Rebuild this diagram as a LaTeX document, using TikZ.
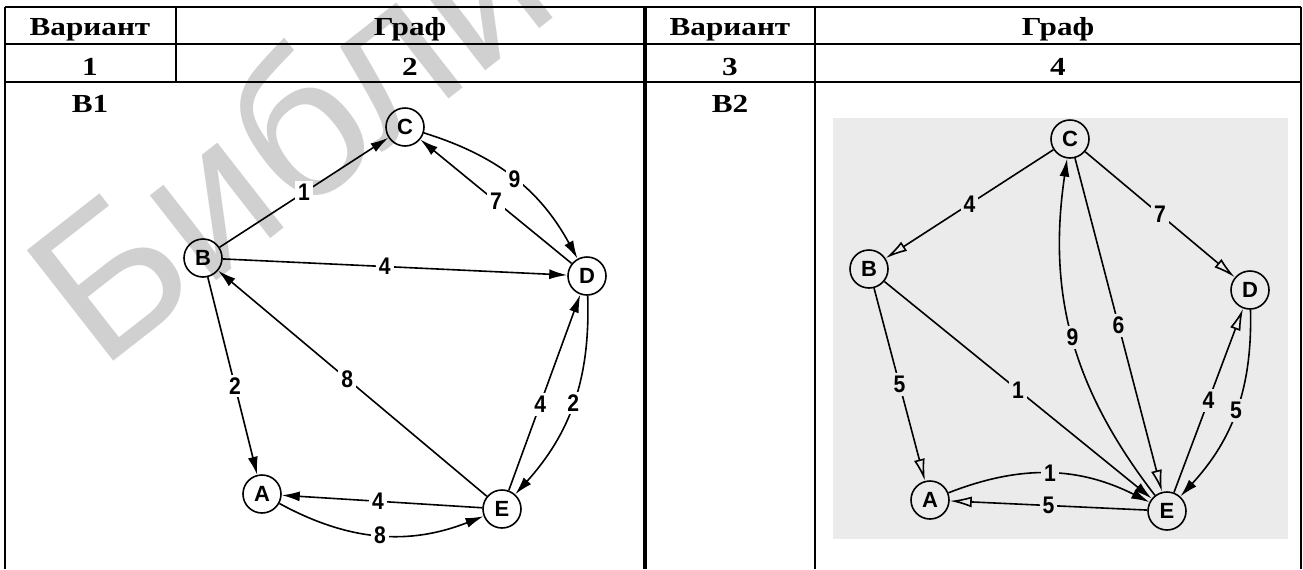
\documentclass[tikz,border=0pt]{standalone}
\usepackage{fontspec}
\setmainfont{Liberation Serif}
\setsansfont{Liberation Sans}
\newfontfamily\hdrfont{Liberation Serif}[FakeStretch=1.2]
\newfontfamily\lblfont{Liberation Sans}[FakeStretch=0.88]
\usetikzlibrary{arrows.meta}

\definecolor{boxgray}{HTML}{EBEBEB}
\definecolor{markgray}{HTML}{D0D0D0}

\tikzset{
  hdr/.style={anchor=base, font=\hdrfont\bfseries\fontsize{13}{13}\selectfont},
  vtx/.style={circle, draw, line width=0.8pt, minimum size=19pt, inner sep=0pt,
    font=\sffamily\bfseries\fontsize{11}{11}\selectfont},
  lbl/.style={fill=white, inner sep=1.5pt, font=\lblfont\bfseries\fontsize{12}{12}\selectfont},
  glbl/.style={lbl, fill=boxgray},
  arr/.style={line width=0.8pt, -{Latex[length=9pt,width=5pt]}},
  oarr/.style={line width=0.8pt, -{Latex[open,length=11pt,width=5.5pt]}},
  rule/.style={line width=1.2pt}
}

\begin{document}
\begin{tikzpicture}[x=0.5pt, y=-0.5pt]
\useasboundingbox (0,0) rectangle (1303,569);
\clip (0,0) rectangle (1303,569);

% watermark
\node[anchor=base west, rotate=38, text=markgray, inner sep=0pt,
  font=\sffamily\fontsize{102}{102}\selectfont] (mark) at (100,372) {Библиотека};

% table
\draw[rule] (5,7) -- (1301,7);
\draw[rule] (5,44) -- (1301,44);
\draw[rule] (5,82) -- (1301,82);
\draw[rule] (5,7) -- (5,569);
\draw[rule] (176,7) -- (176,82);
\draw[line width=1.7pt] (645,7) -- (645,569);
\draw[rule] (815,7) -- (815,569);
\draw[rule] (1301,7) -- (1301,569);

\node[hdr] (h1) at (90,35) {Вариант};
\node[hdr] (h2) at (410,35) {Граф};
\node[hdr] (h3) at (730,35) {Вариант};
\node[hdr] (h4) at (1058,35) {Граф};
\node[hdr] (n1) at (90,75) {1};
\node[hdr] (n2) at (410,75) {2};
\node[hdr] (n3) at (730,75) {3};
\node[hdr] (n4) at (1058,75) {4};
\node[hdr] (v1) at (90,112) {B1};
\node[hdr] (v2) at (730,112) {B2};

% graph B1
\node[vtx] (c1) at (405,127) {C};
\node[vtx] (b1) at (203,258) {B};
\node[vtx] (d1) at (587,276) {D};
\node[vtx] (a1) at (262,494) {A};
\node[vtx] (e1) at (502,509) {E};

\draw[arr] (b1) -- node[lbl] {1} (c1);
\draw[arr] (c1) to[bend left=22] node[lbl] {9} (d1);
\draw[arr] (d1) -- node[lbl] {7} (c1);
\draw[arr] (b1) -- node[lbl, pos=0.47] {4} (d1);
\draw[arr] (b1) -- node[lbl, pos=0.55] {2} (a1);
\draw[arr] (e1) -- node[lbl, pos=0.52] {8} (b1);
\draw[arr] (e1) -- node[lbl, pos=0.44] {4} (d1);
\draw[arr] (d1) to[bend left=22] node[lbl] {2} (e1);
\draw[arr] (e1) -- node[lbl, pos=0.52] {4} (a1);
\draw[arr] (a1) to[bend right=25] node[lbl] {8} (e1);

% graph B2
\fill[boxgray] (833,118) rectangle (1288,539);
\node[vtx] (c2) at (1070,139) {C};
\node[vtx] (b2) at (869,269) {B};
\node[vtx] (d2) at (1250,290) {D};
\node[vtx] (a2) at (930,500) {A};
\node[vtx] (e2) at (1167,511) {E};

\draw[oarr] (c2) -- node[glbl] {4} (b2);
\draw[oarr] (c2) -- node[glbl] {7} (d2);
\draw[oarr] (b2) -- node[glbl] {5} (a2);
\draw[arr] (b2) -- node[glbl] {1} (e2);
\draw[arr] (e2) to[bend left=23] node[glbl] {9} (c2);
\draw[oarr] (c2) -- node[glbl] {6} (e2);
\draw[oarr] (e2) -- node[glbl] {4} (d2);
\draw[arr] (d2) to[bend left=22] node[glbl] {5} (e2);
\draw[arr] (a2) to[bend left=24] node[glbl] {1} (e2);
\draw[oarr] (e2) -- node[glbl] {5} (a2);
\end{tikzpicture}
\end{document}
